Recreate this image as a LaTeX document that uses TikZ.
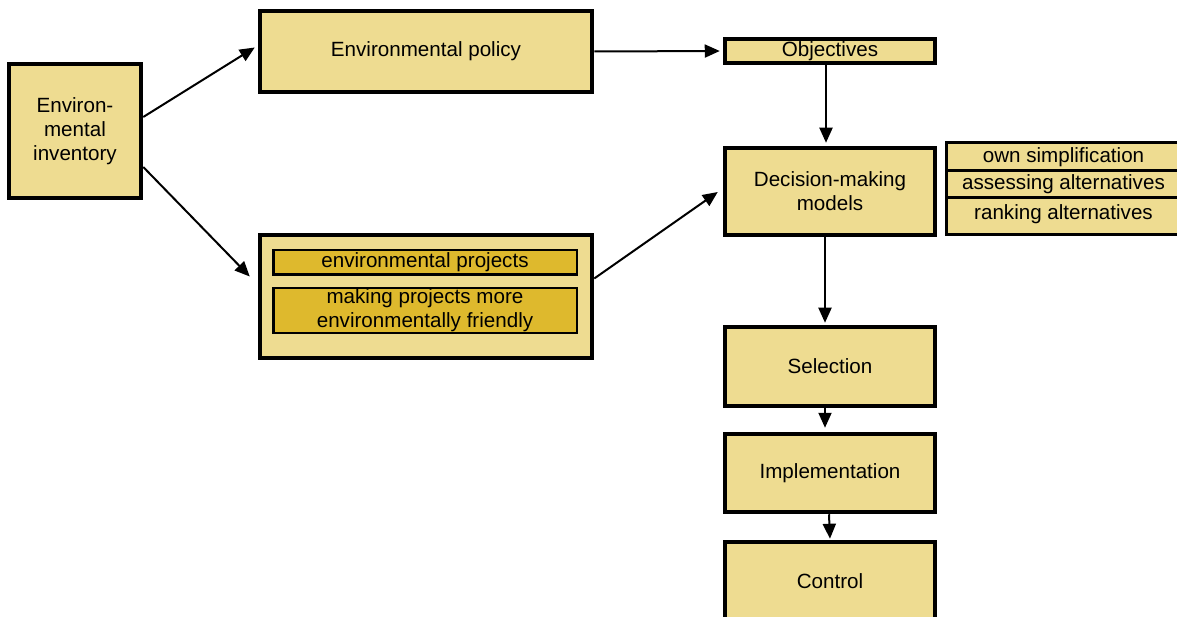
\documentclass[tikz,border=0pt]{standalone}
\usepackage{fontspec}
\setmainfont{Liberation Sans}
\usetikzlibrary{arrows.meta}
\definecolor{tanlight}{RGB}{238,220,145}
\definecolor{tandark}{RGB}{222,185,45}
\tikzset{
	box/.style={draw, line width=4.5pt, fill=tanlight, align=center, inner sep=0pt, font=\fontsize{20.6}{24}\selectfont},
	subbox/.style={box, line width=2.5pt, fill=tandark},
	listbox/.style={box, line width=3pt},
	arr/.style={line width=2pt, -{Triangle[length=15pt,width=13pt]}}
}

\begin{document}
\begin{tikzpicture}[x=1pt, y=-1pt]
			%%%%% START %%%%%
			
			\useasboundingbox (0, 0) rectangle (1177, 617);
			
			\node[box, minimum width=132pt, minimum height=134pt] (inv) at (75, 131) {Environ-\\mental\\inventory};
			
			\node[box, minimum width=332pt, minimum height=81pt] (policy) at (426, 51.5) {Environmental policy};
			
			\node[box, minimum width=332pt, minimum height=123pt] (proj) at (426, 296.5) {};
			\node[subbox, minimum width=303.5pt, minimum height=24.5pt] (projA) at (425, 262.5) {environmental projects};
			\node[subbox, minimum width=303.5pt, minimum height=44.5pt] (projB) at (425, 310.5) {making projects more\\environmentally friendly};
			
			\node[box, minimum width=210pt, minimum height=24pt] (obj) at (830, 51) {Objectives};
			\node[box, minimum width=210pt, minimum height=87pt] (dec) at (830, 191.5) {Decision-making\\models};
			
			\node[listbox, minimum width=234pt, minimum height=28pt] (own) at (1063.5, 157) {own simplification};
			\node[listbox, minimum width=234pt, minimum height=27pt] (assess) at (1063.5, 184.5) {assessing alternatives};
			\node[listbox, minimum width=234pt, minimum height=37pt, text depth=9pt] (rank) at (1063.5, 216.5) {ranking alternatives};
			
			\node[box, minimum width=210pt, minimum height=79pt] (sel) at (830, 366.5) {Selection};
			\node[box, minimum width=210pt, minimum height=78pt] (impl) at (830, 473) {Implementation};
			\node[box, minimum width=210pt, minimum height=78pt] (ctrl) at (830, 581) {Control};
			
			\draw[arr] ([yshift=14pt]inv.east) -- ([xshift=-3pt, yshift=4pt]policy.west);
			\draw[arr] ([yshift=-36pt]inv.east) -- ([xshift=-8pt, yshift=20pt]proj.west);
			\draw[arr, shorten >=3pt] (policy.east) -- (obj.west);
			\draw[arr] ([yshift=18pt]proj.east) -- ([xshift=-5pt, yshift=-0.5pt]dec.west);
			\draw[arr, shorten >=3pt] ([xshift=-4pt]obj.south) -- ([xshift=-4pt]dec.north);
			\draw[arr, shorten >=2pt] ([xshift=-5pt]dec.south) -- ([xshift=-5pt]sel.north);
			\draw[arr, shorten >=4pt] ([xshift=-5pt]sel.south) -- ([xshift=-5pt]impl.north);
			\draw[arr, shorten >=1pt] ([xshift=-1pt]impl.south) -- (ctrl.north);
			
			%%%%% END %%%%%
		\end{tikzpicture}
\end{document}
